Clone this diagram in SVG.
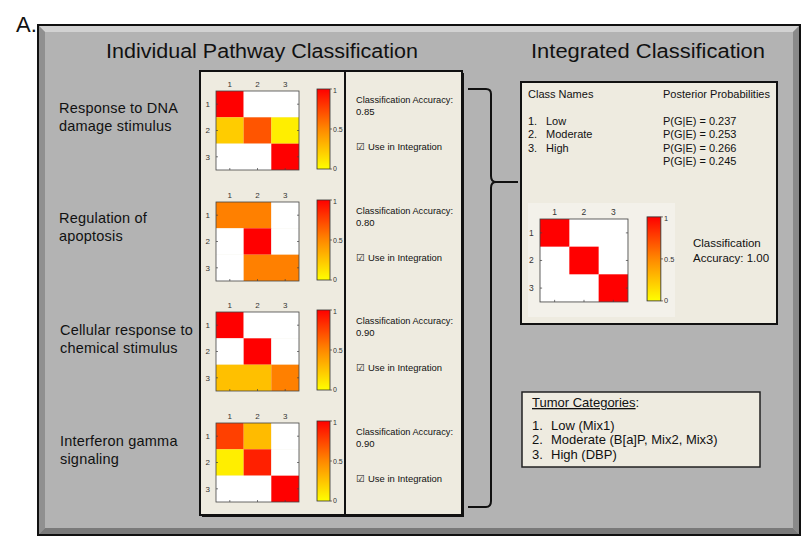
<svg xmlns="http://www.w3.org/2000/svg" width="807" height="539" viewBox="0 0 807 539">
<style>
text{font-family:"Liberation Sans",Arial,sans-serif;fill:#111}
.title{font-size:20px}
.lbl{font-size:14.5px;letter-spacing:0.2px}
.small{font-size:9.5px}
.ax{font-size:8px;fill:#333}
.cb{font-size:7px;fill:#333}
.it{font-size:11px}
.tc{font-size:13px}
.box{fill:#eeebe0;stroke:#111;stroke-width:2}
.mat{fill:none;stroke:#444;stroke-width:0.8}
.tick{stroke:#444;stroke-width:0.7}
</style>
<defs>
<linearGradient id="cbar" x1="0" y1="0" x2="0" y2="1">
<stop offset="0" stop-color="#ff0000"/>
<stop offset="0.5" stop-color="#ff8800"/>
<stop offset="1" stop-color="#ffff00"/>
</linearGradient>
<g id="axes">
<text class="ax" x="13.8" y="-4" text-anchor="middle">1</text>
<text class="ax" x="41.5" y="-4" text-anchor="middle">2</text>
<text class="ax" x="69.2" y="-4" text-anchor="middle">3</text>
<text class="ax" x="-6" y="16" text-anchor="end">1</text>
<text class="ax" x="-6" y="42" text-anchor="end">2</text>
<text class="ax" x="-6" y="69" text-anchor="end">3</text>
<rect class="mat" x="0" y="0" width="83" height="79"/>
<path class="tick" d="M13.8,79v-2M41.5,79v-2M69.2,79v-2M0,13.2h2M0,39.5h2M0,65.8h2M83,13.2h-2M83,39.5h-2M83,65.8h-2"/>
<rect x="101" y="-2" width="13" height="80" fill="url(#cbar)" stroke="#333" stroke-width="0.8"/>
<path class="tick" d="M114,-2h2M114,38h2M114,78h2"/>
<text class="cb" x="117" y="2">1</text>
<text class="cb" x="117" y="41">0.5</text>
<text class="cb" x="117" y="80">0</text>
</g>
</defs>

<text x="16" y="32" font-size="22">A.</text>

<g id="background">
<rect x="38" y="25" width="762" height="510" fill="#b3b3b3"/>
<polygon points="38,25 800,25 793,32 45,32" fill="#d2d2d2"/>
<polygon points="38,25 45,32 45,528 38,535" fill="#909090"/>
<polygon points="800,25 800,535 793,528 793,32" fill="#8a8a8a"/>
<polygon points="38,535 45,528 793,528 800,535" fill="#7a7a7a"/>
<rect x="38" y="25" width="762" height="510" fill="none" stroke="#111" stroke-width="2"/>
</g>

<text class="title" x="106" y="58" textLength="312" lengthAdjust="spacingAndGlyphs">Individual Pathway Classification</text>
<text class="title" x="531" y="58" textLength="234" lengthAdjust="spacingAndGlyphs">Integrated Classification</text>

<g id="pathway-labels">
<text class="lbl" x="59" y="113">Response to DNA</text>
<text class="lbl" x="59" y="131">damage stimulus</text>
<text class="lbl" x="59" y="223">Regulation of</text>
<text class="lbl" x="59" y="241">apoptosis</text>
<text class="lbl" x="60" y="335">Cellular response to</text>
<text class="lbl" x="60" y="353">chemical stimulus</text>
<text class="lbl" x="60" y="446">Interferon gamma</text>
<text class="lbl" x="60" y="464">signaling</text>
</g>

<g id="individual-box">
<rect x="202" y="73" width="262" height="444" fill="#111"/>
<rect class="box" x="200" y="71" width="262" height="444"/>
<line x1="345" y1="71" x2="345" y2="515" stroke="#111" stroke-width="2"/>
</g>

<g id="heatmap1" transform="translate(216,91)">
<rect x="0" y="0" width="27.67" height="26.33" fill="#ff0000"/>
<rect x="27.67" y="0" width="55.33" height="26.33" fill="#ffffff"/>
<rect x="0" y="26.33" width="27.67" height="26.34" fill="#ffcc00"/>
<rect x="27.67" y="26.33" width="27.66" height="26.34" fill="#ff5500"/>
<rect x="55.33" y="26.33" width="27.67" height="26.34" fill="#ffee00"/>
<rect x="0" y="52.67" width="55.33" height="26.33" fill="#ffffff"/>
<rect x="55.33" y="52.67" width="27.67" height="26.33" fill="#ff0000"/>
<use href="#axes"/>
</g>
<g id="heatmap2" transform="translate(216,202)">
<rect x="0" y="0" width="55.33" height="26.33" fill="#ff8000"/>
<rect x="55.33" y="0" width="27.67" height="26.33" fill="#ffffff"/>
<rect x="0" y="26.33" width="27.67" height="26.34" fill="#ffffff"/>
<rect x="27.67" y="26.33" width="27.66" height="26.34" fill="#ff0000"/>
<rect x="55.33" y="26.33" width="27.67" height="26.34" fill="#ffffff"/>
<rect x="0" y="52.67" width="27.67" height="26.33" fill="#ffffff"/>
<rect x="27.67" y="52.67" width="55.33" height="26.33" fill="#ff8000"/>
<use href="#axes"/>
</g>
<g id="heatmap3" transform="translate(216,312)">
<rect x="0" y="0" width="27.67" height="26.33" fill="#ff0000"/>
<rect x="27.67" y="0" width="55.33" height="26.33" fill="#ffffff"/>
<rect x="0" y="26.33" width="27.67" height="26.34" fill="#ffffff"/>
<rect x="27.67" y="26.33" width="27.66" height="26.34" fill="#ff0000"/>
<rect x="55.33" y="26.33" width="27.67" height="26.34" fill="#ffffff"/>
<rect x="0" y="52.67" width="55.33" height="26.33" fill="#ffc000"/>
<rect x="55.33" y="52.67" width="27.67" height="26.33" fill="#ff8000"/>
<use href="#axes"/>
</g>
<g id="heatmap4" transform="translate(216,423)">
<rect x="0" y="0" width="27.67" height="26.33" fill="#ff4000"/>
<rect x="27.67" y="0" width="27.66" height="26.33" fill="#ffbb00"/>
<rect x="55.33" y="0" width="27.67" height="26.33" fill="#ffffff"/>
<rect x="0" y="26.33" width="27.67" height="26.34" fill="#ffee00"/>
<rect x="27.67" y="26.33" width="27.66" height="26.34" fill="#ff2000"/>
<rect x="55.33" y="26.33" width="27.67" height="26.34" fill="#ffffff"/>
<rect x="0" y="52.67" width="55.33" height="26.33" fill="#ffffff"/>
<rect x="55.33" y="52.67" width="27.67" height="26.33" fill="#ff0000"/>
<use href="#axes"/>
</g>

<g id="accuracy-texts">
<text class="small" x="356" y="103" textLength="97" lengthAdjust="spacingAndGlyphs">Classification Accuracy:</text>
<text class="small" x="356" y="115">0.85</text>
<text class="small" x="356" y="150"><tspan font-family="DejaVu Sans">☑</tspan><tspan x="368" textLength="74" lengthAdjust="spacingAndGlyphs">Use in Integration</tspan></text>
<text class="small" x="356" y="214" textLength="97" lengthAdjust="spacingAndGlyphs">Classification Accuracy:</text>
<text class="small" x="356" y="226">0.80</text>
<text class="small" x="356" y="261"><tspan font-family="DejaVu Sans">☑</tspan><tspan x="368" textLength="74" lengthAdjust="spacingAndGlyphs">Use in Integration</tspan></text>
<text class="small" x="356" y="324" textLength="97" lengthAdjust="spacingAndGlyphs">Classification Accuracy:</text>
<text class="small" x="356" y="336">0.90</text>
<text class="small" x="356" y="371"><tspan font-family="DejaVu Sans">☑</tspan><tspan x="368" textLength="74" lengthAdjust="spacingAndGlyphs">Use in Integration</tspan></text>
<text class="small" x="356" y="435" textLength="97" lengthAdjust="spacingAndGlyphs">Classification Accuracy:</text>
<text class="small" x="356" y="447">0.90</text>
<text class="small" x="356" y="482"><tspan font-family="DejaVu Sans">☑</tspan><tspan x="368" textLength="74" lengthAdjust="spacingAndGlyphs">Use in Integration</tspan></text>
</g>

<g id="connectors" fill="none" stroke="#111" stroke-width="2">
<path d="M468,89 L486,89 Q491,89 491,94 L491,176 Q491,182 496,182 Q491,182 491,188 L491,501 Q491,507 486,507 L468,507"/>
<line x1="496" y1="182" x2="518" y2="182"/>
</g>

<g id="integrated-box">
<rect class="box" x="521" y="82" width="256" height="242"/>
<text class="it" x="528" y="98">Class Names</text>
<text class="it" x="663" y="98">Posterior Probabilities</text>
<text class="it" x="528" y="125">1.</text><text class="it" x="546" y="125">Low</text>
<text class="it" x="528" y="138">2.</text><text class="it" x="546" y="138">Moderate</text>
<text class="it" x="528" y="152">3.</text><text class="it" x="546" y="152">High</text>
<text class="it" x="663" y="125">P(G|E) = 0.237</text>
<text class="it" x="663" y="138">P(G|E) = 0.253</text>
<text class="it" x="663" y="152">P(G|E) = 0.266</text>
<text class="it" x="663" y="165">P(G|E) = 0.245</text>
<rect x="528" y="203" width="147" height="114" fill="#f3f1ea"/>
<g transform="translate(540,219) scale(1.06,1.05)">
<rect x="0" y="0" width="83" height="79" fill="#ffffff"/>
<rect x="0" y="0" width="27.67" height="26.33" fill="#ff0000"/>
<rect x="27.67" y="26.33" width="27.66" height="26.34" fill="#ff0000"/>
<rect x="55.33" y="52.67" width="27.67" height="26.33" fill="#ff0000"/>
<use href="#axes"/>
</g>
<text x="693" y="247" font-size="11.5">Classification</text>
<text x="693" y="262" font-size="11.5">Accuracy: 1.00</text>
</g>

<g id="tumor-box">
<rect x="522" y="392" width="238" height="75" fill="#eeebe0" stroke="#222" stroke-width="1.5"/>
<text class="tc" x="532" y="407"><tspan text-decoration="underline">Tumor Categories</tspan>:</text>
<text class="tc" x="532" y="430">1.</text><text class="tc" x="551" y="430">Low (Mix1)</text>
<text class="tc" x="532" y="444">2.</text><text class="tc" x="551" y="444">Moderate (B[a]P, Mix2, Mix3)</text>
<text class="tc" x="532" y="459">3.</text><text class="tc" x="551" y="459">High (DBP)</text>
</g>
</svg>
